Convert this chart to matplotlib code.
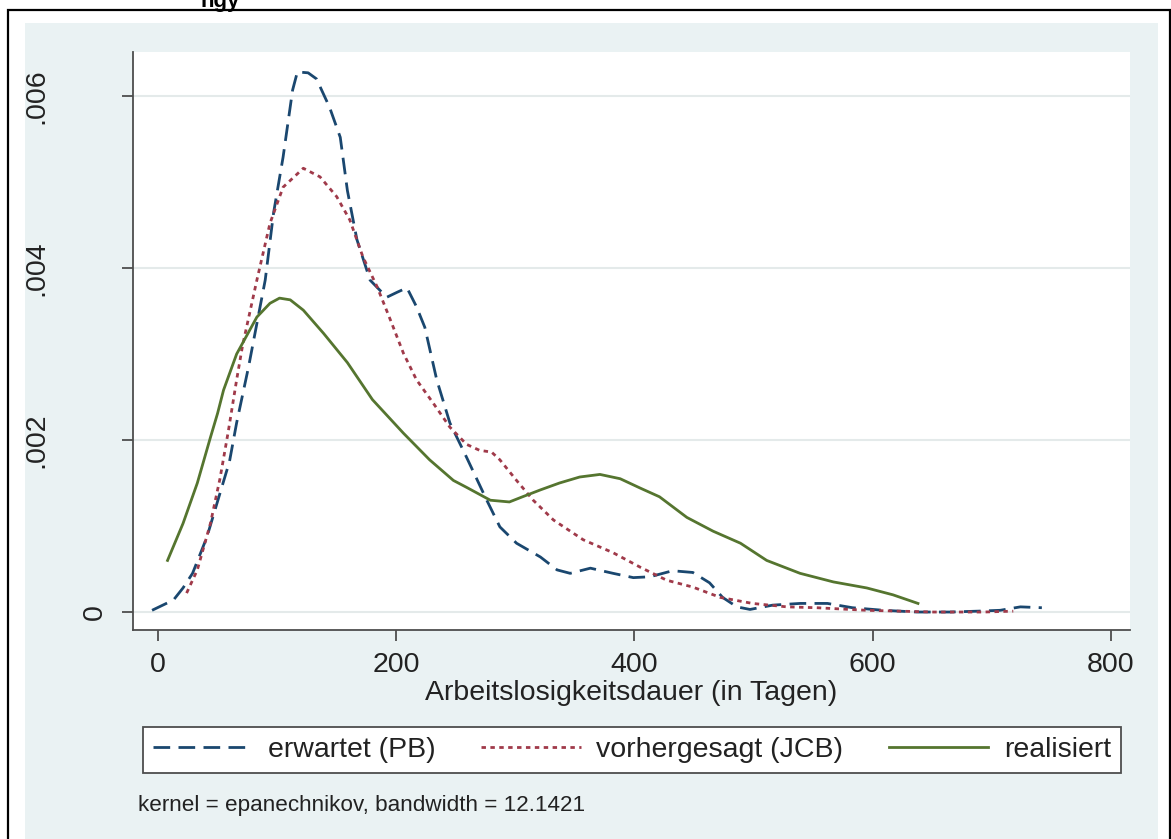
import matplotlib
matplotlib.use("Agg")
import matplotlib.pyplot as plt
from matplotlib.patches import Rectangle

# Kerndichteschaetzung der Arbeitslosigkeitsdauer
erwartet_x = [-5, 13, 21, 29, 41, 52, 60, 66, 76, 90, 97, 105, 113, 117, 126,
              133, 144, 153, 159, 167, 178, 192, 201, 209, 217, 224, 234, 245,
              259, 276, 287, 301, 321, 335, 346, 363, 382, 399, 413, 432, 449,
              463, 474, 486, 497, 516, 539, 562, 583, 609, 637, 665, 688, 707,
              724, 742]
erwartet_y = [.00002, .00014, .00028, .00045, .00087, .00138, .00175, .0022,
              .00285, .00386, .00464, .00529, .00607, .00628, .00627, .0062,
              .00587, .00552, .0049, .00433, .00386, .00366, .00372, .00377,
              .00355, .00331, .0027, .0022, .0018, .0013, .00099, .0008,
              .00064, .00049, .00045, .00051, .00045, .0004, .00041, .00048,
              .00046, .00034, .00017, .00006, .00003, .00008, .0001, .0001,
              .00005, .00002, .0, .0, .00001, .00002, .00006, .00005]

vorhergesagt_x = [24, 33, 44, 52, 59, 66, 71, 83, 94, 105, 122, 136, 150, 161,
                  172, 184, 195, 206, 217, 231, 245, 259, 270, 280, 287, 301,
                  315, 332, 357, 382, 405, 427, 449, 472, 499, 528, 553, 595,
                  651, 693, 718]
vorhergesagt_y = [.00022, .00049, .00103, .00155, .0021, .0027, .0031, .00386,
                  .00452, .00494, .00516, .00506, .00483, .00456, .00413,
                  .00378, .0034, .00301, .0027, .00243, .00215, .00195, .00188,
                  .00186, .00177, .00153, .0013, .00107, .00084, .00069,
                  .00052, .00037, .00029, .00017, .0001, .00006, .00005,
                  .00002, .0, .0, .00001]

realisiert_x = [8, 21, 33, 44, 50, 55, 66, 83, 94, 102, 111, 122, 139, 159, 180,
                206, 228, 248, 259, 279, 295, 306, 321, 337, 354, 371, 388, 405,
                421, 444, 466, 489, 511, 539, 567, 595, 617, 638]
realisiert_y = [.0006, .00103, .0015, .00203, .00231, .00258, .003, .00343,
                .00359, .00365, .00363, .00351, .00324, .0029, .00247, .00208,
                .00177, .00153, .00145, .0013, .00128, .00134, .00142, .0015,
                .00157, .0016, .00155, .00144, .00134, .0011, .00094, .0008,
                .0006, .00045, .00035, .00028, .0002, .0001]

x_ticks = [0, 200, 400, 600, 800]
y_ticks = [0, .002, .004, .006]
y_tick_labels = ['0', '.002', '.004', '.006']
labels = ['erwartet (PB)', 'vorhergesagt (JCB)', 'realisiert']

NAVY = '#1a476f'
MAROON = '#a03a4a'
GREEN = '#55752f'
BG = '#eaf2f3'

W, H = 1171, 839
FS = 20.5

plt.rcParams['font.family'] = ['Liberation Sans', 'DejaVu Sans']


def px(x0, y0, x1, y1):
    """Pixel box (top-left origin) -> figure fraction [l, b, w, h]."""
    return [x0 / W, 1 - y1 / H, (x1 - x0) / W, (y1 - y0) / H]


def main():
    fig = plt.figure(figsize=(W / 100, H / 100), dpi=100, facecolor='white')

    # graph region and the outer frame of the screenshot
    fig.patches.append(Rectangle((25 / W, 0), (1158 - 25) / W, 1 - 23 / H,
                                 transform=fig.transFigure, facecolor=BG,
                                 edgecolor='none', zorder=-2))
    fig.patches.append(Rectangle((8 / W, -0.01), (1169.5 - 8) / W,
                                 1.01 - 10 / H, transform=fig.transFigure,
                                 facecolor='none', edgecolor='black',
                                 linewidth=1.6, zorder=-1))
    fig.text(240 / W, 1 - 7 / H, 'ngy', ha='right', va='baseline',
             fontsize=16, fontweight='bold')

    ax = fig.add_axes(px(133, 52, 1130, 630))
    ax.set_facecolor('white')

    l1, = ax.plot(erwartet_x, erwartet_y, color=NAVY, lw=2.0,
                  dashes=(6, 3))
    l2, = ax.plot(vorhergesagt_x, vorhergesagt_y, color=MAROON, lw=2.0,
                  dashes=(1.6, 1.6))
    l3, = ax.plot(realisiert_x, realisiert_y, color=GREEN, lw=2.0)

    ax.set_xlim(-21, 816)
    ax.set_ylim(-0.000209, 0.006512)
    ax.set_xticks(x_ticks)
    ax.set_yticks(y_ticks)
    ax.set_yticklabels(y_tick_labels)
    ax.grid(axis='y', color='#e4eaea', lw=1.5)
    ax.set_axisbelow(True)

    for side in ['top', 'right']:
        ax.spines[side].set_visible(False)
    for side in ['left', 'bottom']:
        ax.spines[side].set_color('#4d4d4d')
        ax.spines[side].set_linewidth(1.3)

    ax.tick_params(length=8, width=1.3, color='#4d4d4d', labelsize=FS,
                   labelcolor='#222222')
    ax.tick_params(axis='x', pad=8)
    ax.tick_params(axis='y', labelrotation=90, pad=10)
    for lab in ax.get_yticklabels():
        lab.set_va('center')
    # the non-zero labels sit further out in this export
    for tick in ax.yaxis.get_major_ticks()[1:]:
        tick.set_pad(52)

    fig.text((133 + 1130) / 2 / W, 1 - 693 / H,
             'Arbeitslosigkeitsdauer (in Tagen)', ha='center', va='center',
             fontsize=FS, color='#222222')

    leg = fig.legend([l1, l2, l3], labels, loc='center', ncol=3,
                     mode='expand', bbox_to_anchor=px(143, 723, 1121, 777),
                     fontsize=FS, frameon=True, fancybox=False,
                     edgecolor='#4d4d4d', framealpha=1, borderaxespad=0,
                     borderpad=0.35, handlelength=3.5, handletextpad=0.55)
    leg.get_frame().set_linewidth(1.3)
    for t in leg.get_texts():
        t.set_color('#222222')

    fig.text(138 / W, 1 - 811 / H,
             'kernel = epanechnikov, bandwidth = 12.1421', ha='left',
             va='baseline', fontsize=16.2, color='#222222')

    fig.savefig('out.png', dpi=100, facecolor='white')
    plt.close(fig)


if __name__ == '__main__':
    main()
